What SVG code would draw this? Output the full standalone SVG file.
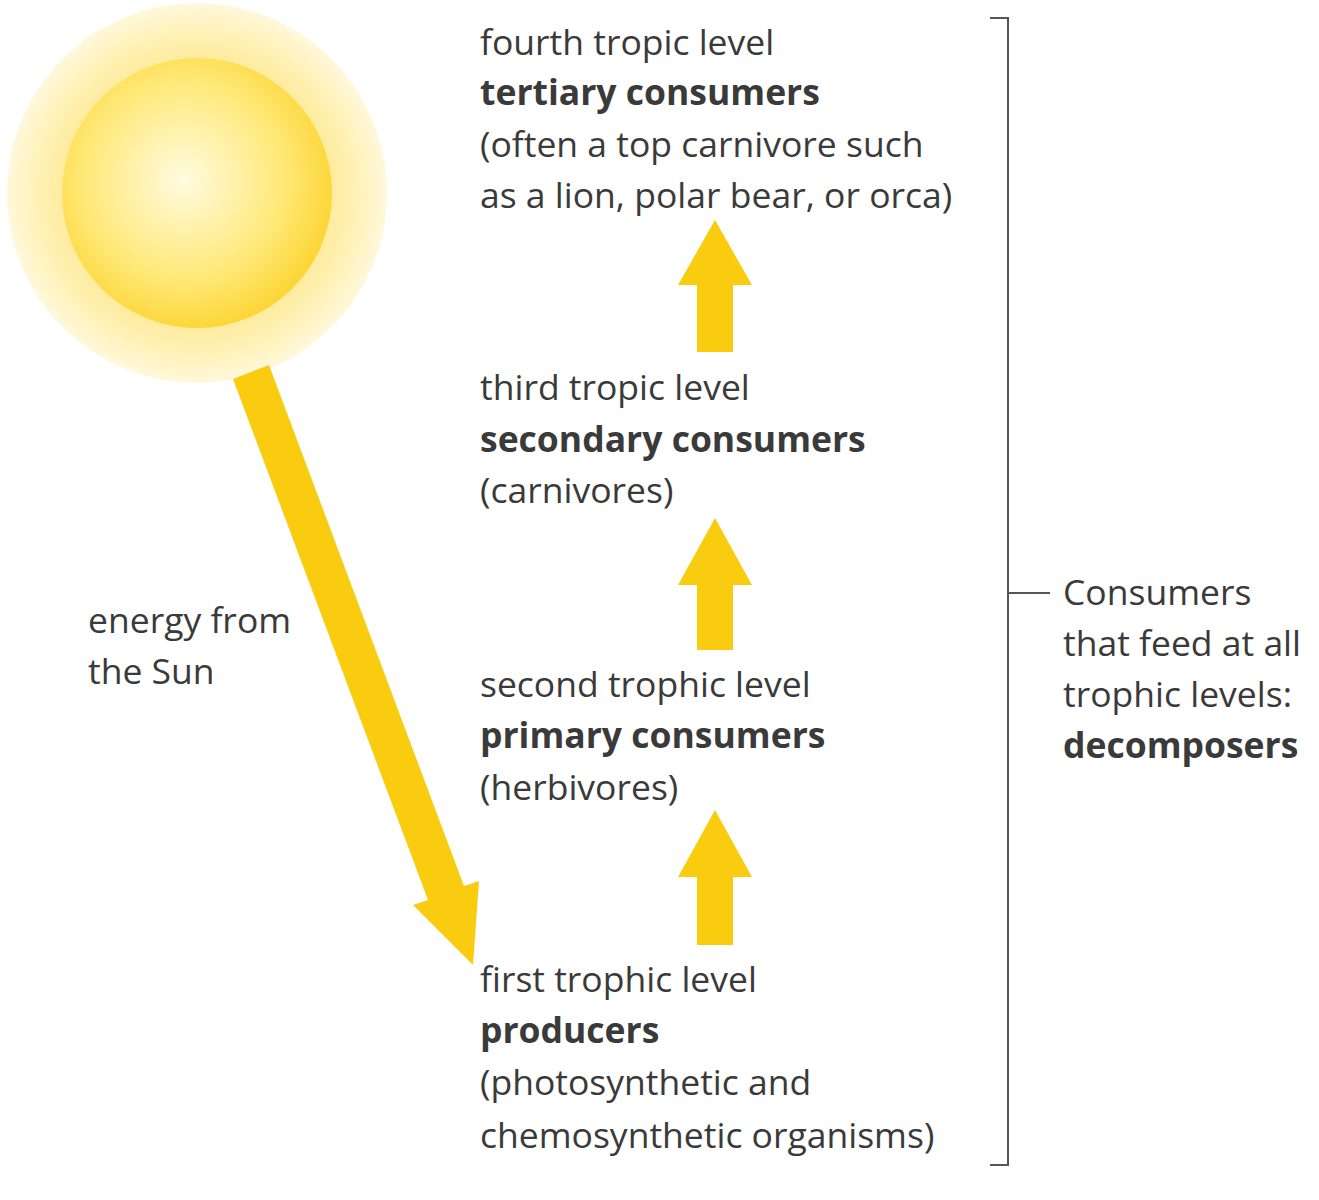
<svg xmlns="http://www.w3.org/2000/svg" width="1319" height="1200" viewBox="0 0 1319 1200">
<defs>
<radialGradient id="sun" cx="0.45" cy="0.45" r="0.6">
<stop offset="0" stop-color="#fffbe0"/><stop offset="0.6" stop-color="#ffe97a"/><stop offset="1" stop-color="#fcd22a"/>
</radialGradient>
<radialGradient id="glow" cx="0.5" cy="0.5" r="0.5">
<stop offset="0.6" stop-color="#fde68a"/><stop offset="0.85" stop-color="#fff2b8"/><stop offset="1" stop-color="#fff8dc"/>
</radialGradient>
<style>
text{font-family:"Open Sans","Liberation Sans",sans-serif;font-size:35.5px;fill:#3a3a3a}
.b{font-weight:bold}
.arr{fill:#f9cc0f}
.br{fill:none;stroke:#555;stroke-width:2}
</style>
</defs>
<g id="sun-node">
<circle cx="197" cy="193" r="190" fill="url(#glow)"/>
<circle cx="197" cy="193" r="135" fill="url(#sun)"/>
</g>
<g id="connectors">
<polygon class="arr" points="233,379 269,365 464,886 479,881 473,965 413,905 428,900"/>
<polygon class="arr" points="697,352 733,352 733,285 752,285 715,220 678,285 697,285"/>
<polygon class="arr" points="697,650 733,650 733,585 752,585 715,518 678,585 697,585"/>
<polygon class="arr" points="697,945 733,945 733,877 752,877 715,810 678,877 697,877"/>
<path class="br" d="M990,18 H1008 V1165 H990 M1008,593 H1050"/>
</g>
<g id="n4"><text x="480" y="55">fourth tropic level</text><text class="b" x="480" y="105">tertiary consumers</text><text x="480" y="157">(often a top carnivore such</text><text x="480" y="208">as a lion, polar bear, or orca)</text></g>
<g id="n3"><text x="480" y="400">third tropic level</text><text class="b" x="480" y="452">secondary consumers</text><text x="480" y="503">(carnivores)</text></g>
<g id="n2"><text x="480" y="697">second trophic level</text><text class="b" x="480" y="748">primary consumers</text><text x="480" y="800">(herbivores)</text></g>
<g id="n1"><text x="480" y="992">first trophic level</text><text class="b" x="480" y="1043">producers</text><text x="480" y="1095">(photosynthetic and</text><text x="480" y="1148">chemosynthetic organisms)</text></g>
<g id="energy"><text x="88" y="633">energy from</text><text x="88" y="684">the Sun</text></g>
<g id="decomp"><text x="1063" y="605">Consumers</text><text x="1063" y="656">that feed at all</text><text x="1063" y="707">trophic levels:</text><text class="b" x="1063" y="758">decomposers</text></g>
</svg>
